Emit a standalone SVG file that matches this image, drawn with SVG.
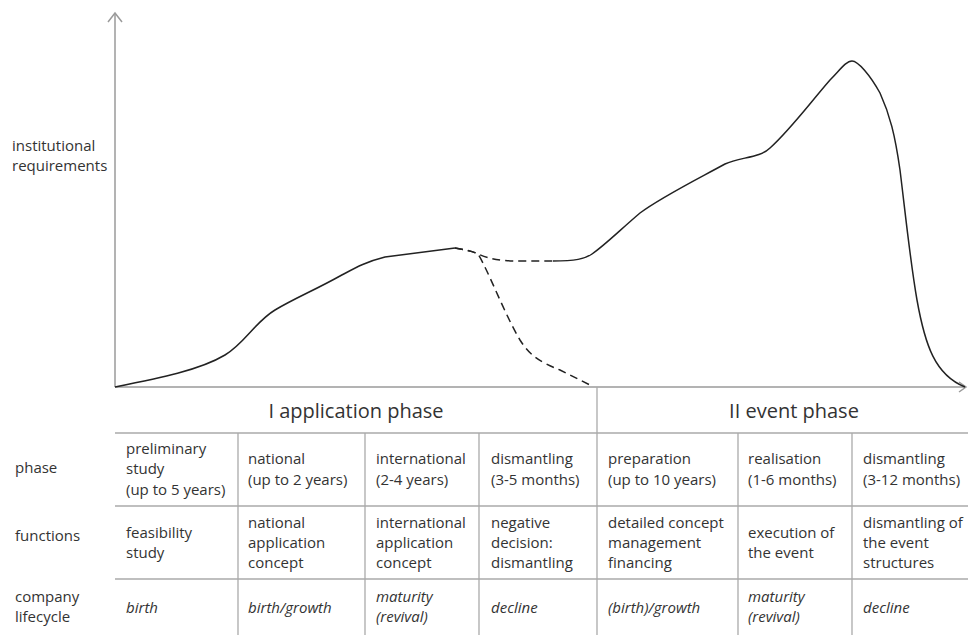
<svg xmlns="http://www.w3.org/2000/svg" width="968" height="635" viewBox="0 0 968 635">
  <style>
    text { font-family: "Open Sans", Lato, "Liberation Sans", sans-serif; fill: #333; font-size: 15px; }
    .head { font-size: 20px; text-anchor: middle; }
    .it { font-style: italic; }
    .axis { stroke: #9a9a9a; stroke-width: 1.5; fill: none; }
    .grid { stroke: #aaa; stroke-width: 1.3; fill: none; }
    .curve { stroke: #222; stroke-width: 1.5; fill: none; }
    .dash { stroke-dasharray: 8 5; }
  </style>

  <!-- axes -->
  <g id="axes">
    <line class="axis" x1="115" y1="387" x2="115" y2="13"/>
    <polyline class="axis" points="108,22 115,13 122,22"/>
    <line class="axis" x1="115" y1="387" x2="966" y2="387"/>
    <polyline class="axis" points="959,382 966,387 959,392"/>
    <text x="12" y="151">institutional</text>
    <text x="12" y="171">requirements</text>
  </g>

  <!-- requirement curves -->
  <g id="connectors">
    <path class="curve" d="M115,387 C160,378 200,370 225,355 C245,343 255,322 275,310 C295,298 315,290 340,276 C355,268 365,262 385,257 L455,248"/>
    <path class="curve dash" d="M455,248 C465,250 472,251 478,254 C490,259 500,261 520,261 L553,261"/>
    <path class="curve dash" d="M455,248 C465,250 472,251 478,254 C488,270 505,315 520,340 C530,356 540,362 560,370 L590,385"/>
    <path class="curve" d="M553,261 C575,261 585,259 592,254 C605,245 620,230 640,213 C660,198 690,183 725,164 C740,157 760,158 770,148 C790,130 810,103 830,80 C840,70 846,61 852,61 C858,61 870,75 880,93 C890,115 895,135 900,170 C905,210 910,260 917,300 C925,345 935,375 965,387"/>
  </g>

  <!-- table grid -->
  <g id="table-grid">
    <line class="grid" x1="115" y1="433" x2="968" y2="433"/>
    <line class="grid" x1="115" y1="506" x2="968" y2="506"/>
    <line class="grid" x1="115" y1="579" x2="968" y2="579"/>
    <line class="grid" x1="238" y1="433" x2="238" y2="635"/>
    <line class="grid" x1="365" y1="433" x2="365" y2="635"/>
    <line class="grid" x1="479" y1="433" x2="479" y2="635"/>
    <line class="grid" x1="597" y1="387" x2="597" y2="635"/>
    <line class="grid" x1="738" y1="433" x2="738" y2="635"/>
    <line class="grid" x1="852" y1="433" x2="852" y2="635"/>
  </g>

  <g id="header-application"><text class="head" x="356" y="418">I application phase</text></g>
  <g id="header-event"><text class="head" x="794" y="418">II event phase</text></g>

  <g id="row-labels">
    <text x="15" y="473">phase</text>
    <text x="15" y="541">functions</text>
    <text x="15" y="602">company</text>
    <text x="15" y="622">lifecycle</text>
  </g>

  <!-- phase row -->
  <g id="phase-1"><text x="126" y="454">preliminary</text><text x="126" y="474">study</text><text x="126" y="495">(up to 5 years)</text></g>
  <g id="phase-2"><text x="248" y="464">national</text><text x="248" y="485">(up to 2 years)</text></g>
  <g id="phase-3"><text x="376" y="464">international</text><text x="376" y="485">(2-4 years)</text></g>
  <g id="phase-4"><text x="491" y="464">dismantling</text><text x="491" y="485">(3-5 months)</text></g>
  <g id="phase-5"><text x="608" y="464">preparation</text><text x="608" y="485">(up to 10 years)</text></g>
  <g id="phase-6"><text x="748" y="464">realisation</text><text x="748" y="485">(1-6 months)</text></g>
  <g id="phase-7"><text x="863" y="464">dismantling</text><text x="863" y="485">(3-12 months)</text></g>

  <!-- functions row -->
  <g id="func-1"><text x="126" y="538">feasibility</text><text x="126" y="558">study</text></g>
  <g id="func-2"><text x="248" y="528">national</text><text x="248" y="548">application</text><text x="248" y="568">concept</text></g>
  <g id="func-3"><text x="376" y="528">international</text><text x="376" y="548">application</text><text x="376" y="568">concept</text></g>
  <g id="func-4"><text x="491" y="528">negative</text><text x="491" y="548">decision:</text><text x="491" y="568">dismantling</text></g>
  <g id="func-5"><text x="608" y="528">detailed concept</text><text x="608" y="548">management</text><text x="608" y="568">financing</text></g>
  <g id="func-6"><text x="748" y="538">execution of</text><text x="748" y="558">the event</text></g>
  <g id="func-7"><text x="863" y="528">dismantling of</text><text x="863" y="548">the event</text><text x="863" y="568">structures</text></g>

  <!-- lifecycle row -->
  <g id="life-1"><text class="it" x="126" y="613">birth</text></g>
  <g id="life-2"><text class="it" x="248" y="613">birth/growth</text></g>
  <g id="life-3"><text class="it" x="376" y="602">maturity</text><text class="it" x="376" y="622">(revival)</text></g>
  <g id="life-4"><text class="it" x="491" y="613">decline</text></g>
  <g id="life-5"><text class="it" x="608" y="613">(birth)/growth</text></g>
  <g id="life-6"><text class="it" x="748" y="602">maturity</text><text class="it" x="748" y="622">(revival)</text></g>
  <g id="life-7"><text class="it" x="863" y="613">decline</text></g>
</svg>
